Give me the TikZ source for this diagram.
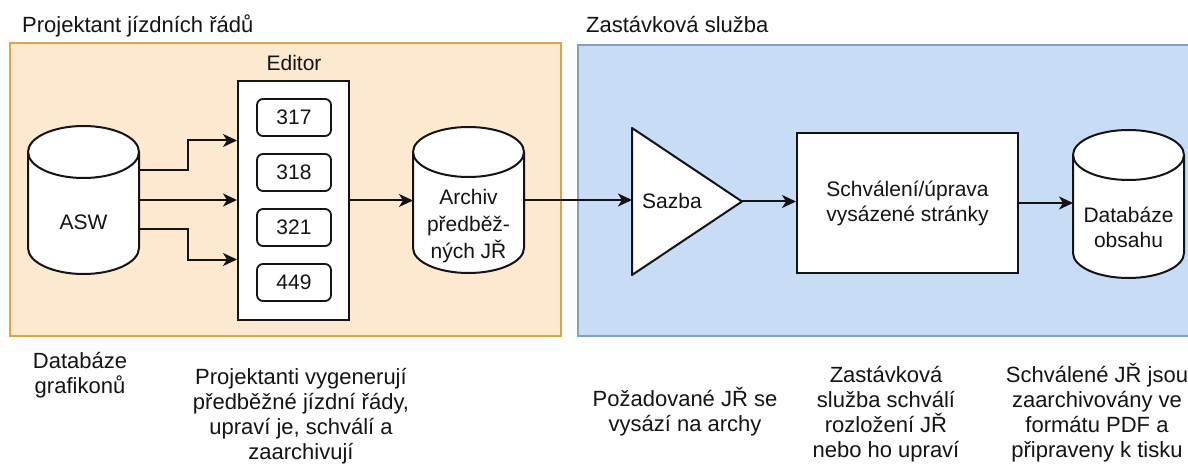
\documentclass[tikz,border=0pt]{standalone}
\usepackage{fontspec}
\setmainfont{Liberation Sans}
\usetikzlibrary{arrows.meta,calc}
\definecolor{orfill}{HTML}{FDE8D0}
\definecolor{ordraw}{HTML}{DCA548}
\definecolor{blfill}{HTML}{C8DCF6}
\definecolor{bldraw}{HTML}{7F9FCC}
\definecolor{ink}{HTML}{141414}
% cylinder outline: cx, rx, top, bottom, ry
\newcommand{\drumshape}[5]{%
  \filldraw[fill=white,draw=ink,line width=2pt]
    ({#1-#2},{#3+#5}) -- ({#1-#2},{#4-#5})
    arc[start angle=180,end angle=360,x radius=#2pt,y radius=#5pt]
    -- ({#1+#2},{#3+#5})
    arc[start angle=0,end angle=180,x radius=#2pt,y radius=#5pt] -- cycle;
  \draw[draw=ink,line width=2pt] ({#1-#2},{#3+#5})
    arc[start angle=180,end angle=360,x radius=#2pt,y radius=#5pt];
}
\begin{document}
\begin{tikzpicture}[x=1pt,y=-1pt,
  lbltext/.style={font=\fontsize{21}{25}\selectfont, inner sep=0pt, text=ink},
  notetext/.style={font=\fontsize{22}{25}\selectfont, inner sep=0pt, align=center, text=ink},
  arr/.style={draw=ink, line width=2pt, -{Stealth[length=14pt,width=13pt,inset=4pt]}},
  numbox/.style={draw=ink, line width=1.8pt, fill=white, rounded corners=6pt, minimum width=74pt, minimum height=37pt, inner sep=0pt, font=\fontsize{21}{25}\selectfont, text=ink},
  boxframe/.style={draw=ink, line width=2pt, fill=white, inner sep=0pt, text=ink},
  holder/.style={inner sep=0pt, outer sep=0pt}]

\useasboundingbox (0,0) rectangle (1188,465);
\fill[white] (0,0) rectangle (1188,465);

% regions
\filldraw[fill=orfill, draw=ordraw, line width=1.8pt] (10,43) rectangle (561,336);
\filldraw[fill=blfill, draw=bldraw, line width=1.8pt] (578,45) rectangle (1200,336);

\node[notetext, anchor=base west] (t1) at (22,33) {Projektant jízdních řádů};
\node[notetext, anchor=base west] (t2) at (586,33) {Zastávková služba};

% editor
\node[lbltext, anchor=base] (edlbl) at (294,71) {Editor};
\node[boxframe, minimum width=111pt, minimum height=239pt] (editor) at (293.5,200.5) {};
\node[numbox] (n317) at (294,117.5) {317};
\node[numbox] (n318) at (294,172.5) {318};
\node[numbox] (n321) at (294,227.5) {321};
\node[numbox] (n449) at (294,282.5) {449};

% ASW
\node[holder, minimum width=111pt, minimum height=148pt] (asw) at (83.5,200) {};
\drumshape{83.5}{55.5}{126}{274}{26}
\node[lbltext] (aswt) at (83.5,222.5) {ASW};

% Archiv
\node[holder, minimum width=111pt, minimum height=146pt] (archiv) at (468.5,200) {};
\drumshape{468.5}{55.5}{127}{273}{25}
\node[lbltext, align=center, font=\fontsize{21}{27}\selectfont] (archivt) at (468.5,226) {Archiv\\předběž-\\ných JŘ};

% Sazba
\node[holder, minimum width=110pt, minimum height=147pt] (sazba) at (687,201.5) {};
\filldraw[fill=white, draw=ink, line width=2pt, line join=round] (sazba.north west) -- (sazba.east) -- (sazba.south west) -- cycle;
\node[lbltext] (sazbat) at (672,201) {Sazba};

% Schvaleni
\node[boxframe, minimum width=221pt, minimum height=140pt, align=center, font=\fontsize{21}{25}\selectfont] (schv) at (907.5,203) {Schválení/úprava\\vysázené stránky};

% Databaze obsahu
\node[holder, minimum width=111pt, minimum height=148pt] (db) at (1128.5,204) {};
\drumshape{1128.5}{55.5}{130}{278}{25}
\node[lbltext, align=center] (dbt) at (1128.5,227) {Databáze\\obsahu};

% connectors
\coordinate (bend) at (188,200);
\draw[arr] ([yshift=30pt]asw.east) -- ([yshift=30pt]asw.east -| bend) |- ([yshift=60pt]editor.west);
\draw[arr] (asw.east) -- (asw.east -| editor.west);
\draw[arr] ([yshift=-29pt]asw.east) -- ([yshift=-29pt]asw.east -| bend) |- ([yshift=-59pt]editor.west);
\draw[arr] (editor.east) -- (editor.east -| archiv.west);
\draw[arr] (archiv.east) -- (archiv.east -| sazba.west);
\draw[arr] (sazba.east) -- (sazba.east -| schv.west);
\draw[arr] (schv.east) -- (schv.east -| db.west);

% notes
\node[notetext] (c1) at (80,375) {Databáze\\grafikonů};
\node[notetext] (c2) at (301,416) {Projektanti vygenerují\\předběžné jízdní řády,\\upraví je, schválí a\\zaarchivují};
\node[notetext] (c3) at (685,412) {Požadované JŘ se\\vysází na archy};
\node[notetext] (c4) at (886,414) {Zastávková\\služba schválí\\rozložení JŘ\\nebo ho upraví};
\node[notetext] (c5) at (1097,413) {Schválené JŘ jsou\\zaarchivovány ve\\formátu PDF a\\připraveny k tisku};
\end{tikzpicture}
\end{document}
